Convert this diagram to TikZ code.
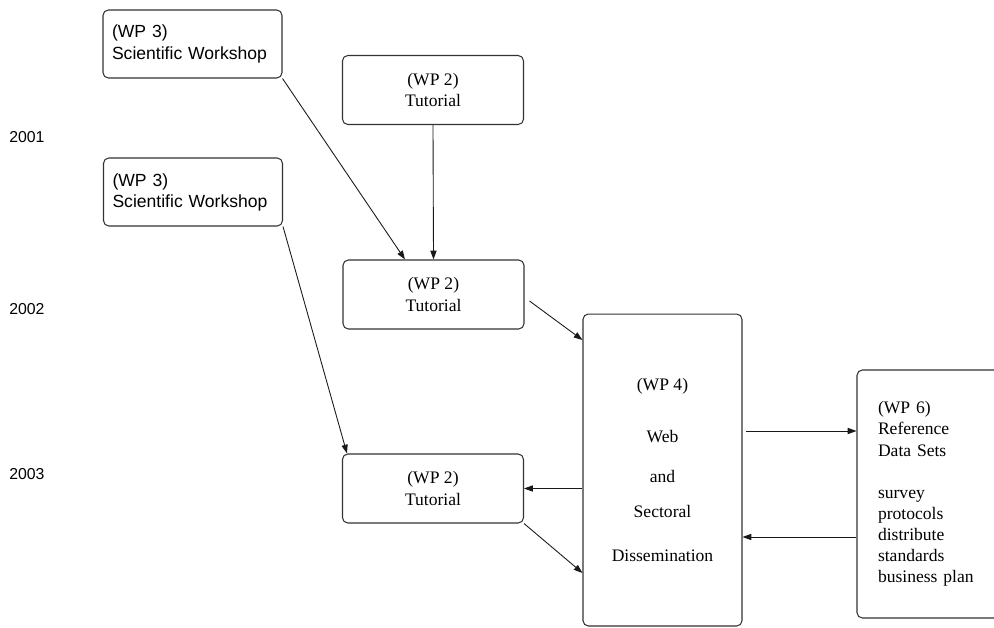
\documentclass[tikz,border=0pt]{standalone}
\usepackage{fontspec}
\setmainfont{Liberation Serif}
\newfontfamily\wsfont{Liberation Sans}
\usetikzlibrary{arrows.meta}

\tikzset{
  wpbox/.style={draw=black!80, line width=0.6pt, rounded corners=3pt, inner sep=0pt},
  wsbox/.style={wpbox, font=\wsfont, align=left, text width=3.22cm, inner xsep=0.18cm, minimum height=1.36cm},
  tutbox/.style={wpbox, align=center, minimum width=3.62cm, minimum height=1.38cm},
  link/.style={draw=black!90, line width=0.5pt, -{Triangle[length=5pt,width=3.5pt]}},
  yearlbl/.style={font=\wsfont\small, anchor=west, inner sep=0pt}
}

\begin{document}
\begin{tikzpicture}[x=0.02cm, y=-0.02cm]

        \useasboundingbox (0,0) rectangle (994,628);

        % --- Years ---
        \node[yearlbl] (y2001) at (9,137) {2001};
        \node[yearlbl] (y2002) at (9,309) {2002};
        \node[yearlbl] (y2003) at (9,474) {2003};

        % --- Workshops and tutorials ---
        \node[wsbox] (ws1) at (192.5,44) {(WP 3)\\Scientific Workshop};
        \node[tutbox] (tut1) at (433,90) {(WP 2)\\Tutorial};
        \node[wsbox] (ws2) at (193,192) {(WP 3)\\Scientific Workshop};
        \node[tutbox] (tut2) at (433.5,294.5) {(WP 2)\\Tutorial};
        \node[tutbox] (tut3) at (433,488.5) {(WP 2)\\Tutorial};

        % --- Dissemination and data sets ---
        \node[wpbox, align=center, minimum width=3.18cm, minimum height=6.24cm] (web) at (662.5,470)
            {(WP 4)\\[17.5pt]Web\\[11pt]and\\[8pt]Sectoral\\[13pt]Dissemination};
        \node[wpbox, align=left, text width=2.22cm, inner xsep=0.42cm, minimum height=4.96cm] (ref) at (933.5,494)
            {(WP 6)\\Reference\\Data Sets\\[12pt]survey\\protocols\\distribute\\standards\\business plan};

        % --- Links ---
        \draw[link] (ws1.south east) -- ([xshift=-0.57cm]tut2.north);
        \draw[link] (tut1.south) -- (tut2.north);
        \draw[link] (ws2.south east) -- ([xshift=0.1cm]tut3.north west);
        \draw[link] ([shift={(0.1cm,-0.13cm)}]tut2.east) -- ([yshift=2.6cm]web.west);
        \draw[link] (web.west |- tut3.east) -- (tut3.east);
        \draw[link] (tut3.south east) -- ([yshift=-2.06cm]web.west);

        % links to the data sets
        \coordinate (toref) at (800,431);
        \coordinate (fromref) at (800,537);
        \draw[link] ([xshift=0.06cm]web.east |- toref) -- (ref.west |- toref);
        \draw[link] (ref.west |- fromref) -- (web.east |- fromref);

    \end{tikzpicture}
\end{document}
